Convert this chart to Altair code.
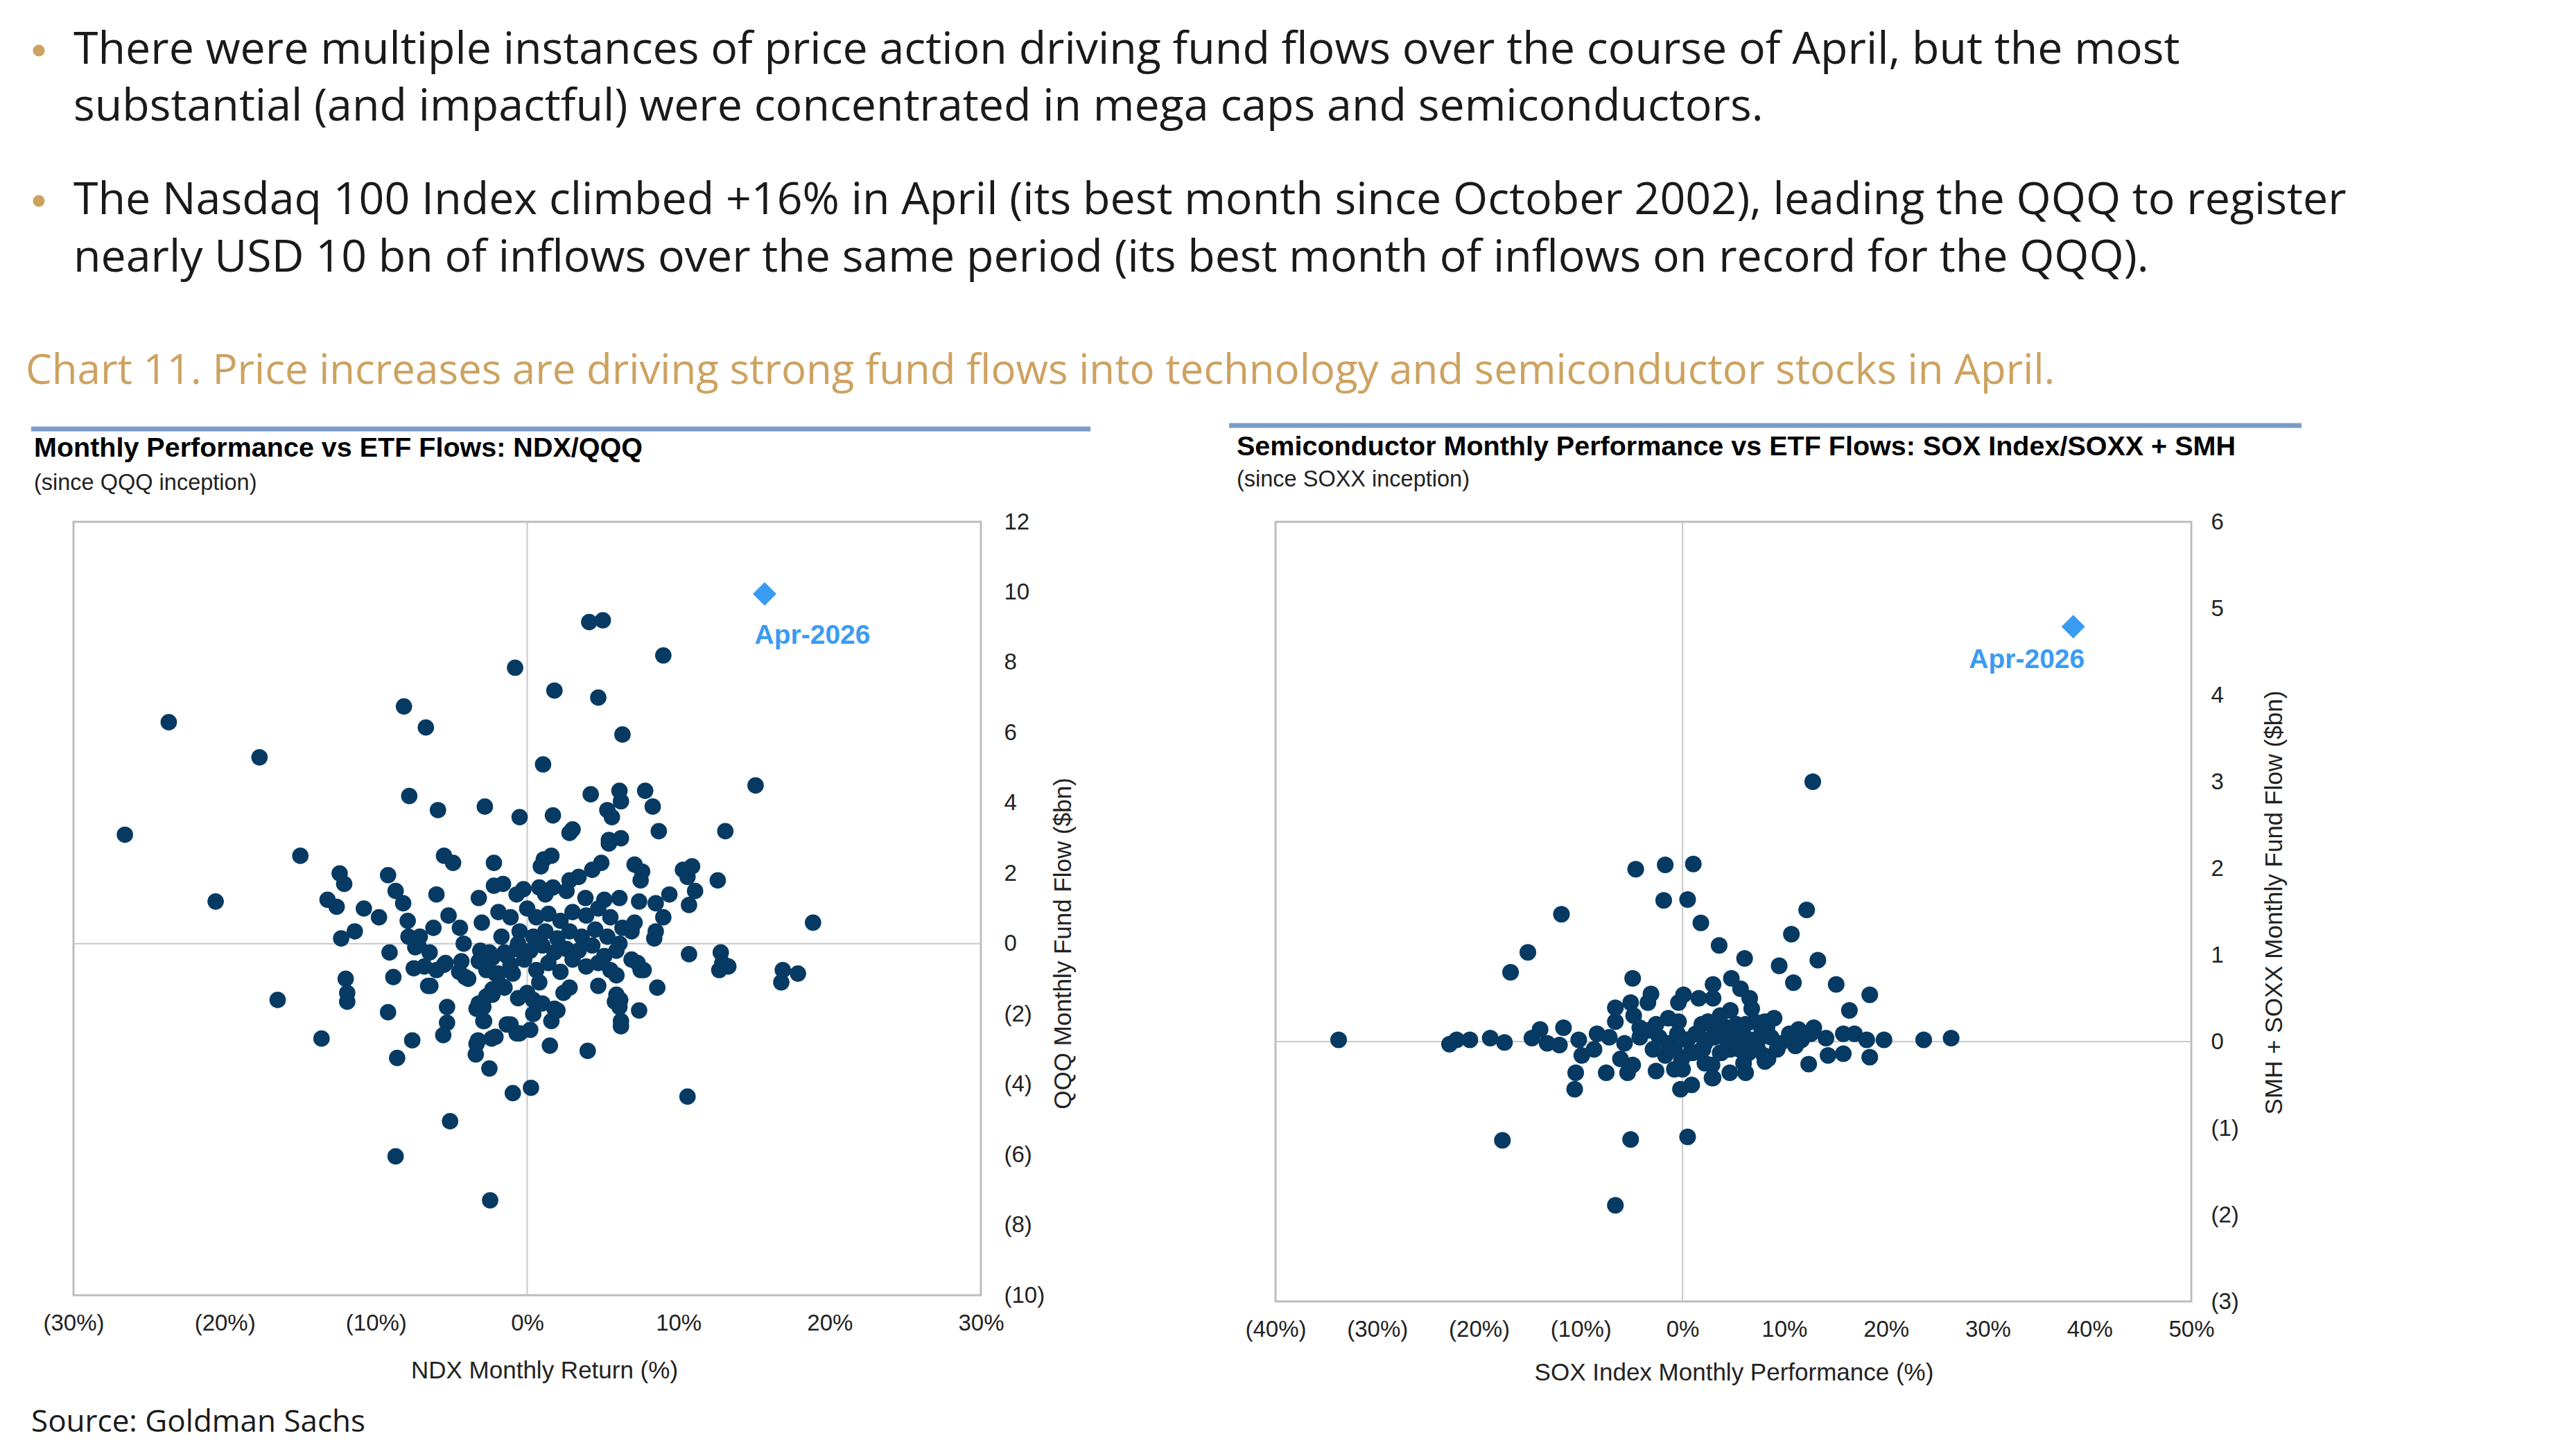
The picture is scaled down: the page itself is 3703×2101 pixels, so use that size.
import altair as alt
import pandas as pd

# ---------------- text content ----------------
BULLET_1 = [
    "There were multiple instances of price action driving fund flows over the course of April, but the most",
    "substantial (and impactful) were concentrated in mega caps and semiconductors.",
]
BULLET_2 = [
    "The Nasdaq 100 Index climbed +16% in April (its best month since October 2002), leading the QQQ to register",
    "nearly USD 10 bn of inflows over the same period (its best month of inflows on record for the QQQ).",
]
CHART_TITLE = "Chart 11. Price increases are driving strong fund flows into technology and semiconductor stocks in April."
SOURCE = "Source: Goldman Sachs"

NDX_TITLE = "Monthly Performance vs ETF Flows: NDX/QQQ"
NDX_SUB = "(since QQQ inception)"
NDX_XTITLE = "NDX Monthly Return (%)"
NDX_YTITLE = "QQQ Monthly Fund Flow ($bn)"

SOX_TITLE = "Semiconductor Monthly Performance vs ETF Flows: SOX Index/SOXX + SMH"
SOX_SUB = "(since SOXX inception)"
SOX_XTITLE = "SOX Index Monthly Performance (%)"
SOX_YTITLE = "SMH + SOXX Monthly Fund Flow ($bn)"

HIGHLIGHT_LABEL = "Apr-2026"

# ---------------- axis ticks ----------------
NDX_X_TICKS = [-30, -20, -10, 0, 10, 20, 30]
NDX_Y_TICKS = [-10, -8, -6, -4, -2, 0, 2, 4, 6, 8, 10, 12]
SOX_X_TICKS = [-40, -30, -20, -10, 0, 10, 20, 30, 40, 50]
SOX_Y_TICKS = [-3, -2, -1, 0, 1, 2, 3, 4, 5, 6]

# ---------------- data: (monthly return %, monthly flow $bn) ----------------
ndx_points = [
    (-26.6, 3.1), (-23.7, 6.3), (-20.6, 1.2), (-17.7, 5.3), (-16.5, -1.6), (-15.0, 2.5), (-13.6, -2.7),
    (-12.4, 2.0), (-12.1, 1.7), (-13.2, 1.25), (-12.6, 1.05), (-12.3, 0.15), (-11.4, 0.35), (-10.8, 1.0), (-9.8, 0.75),
    (-12.0, -1.0), (-11.9, -1.4), (-11.9, -1.65),
    (-9.2, 1.95), (-8.7, 1.5), (-8.2, 1.15), (-7.9, 0.65), (-7.85, 0.2), (-9.1, -0.25), (-8.85, -0.95), (-9.2, -1.95),
    (-7.6, -2.75), (-8.6, -3.25), (-8.7, -6.05), (-5.1, -5.05), (-2.45, -7.3), (-0.95, -4.25),
    (-8.15, 6.75), (-6.7, 6.15), (-7.8, 4.2), (-5.9, 3.8), (-2.8, 3.9), (-5.5, 2.5), (-4.9, 2.3), (-6.0, 1.4),
    (-3.2, 1.3), (-2.2, 1.65),
    (-5.2, 0.8), (-4.45, 0.45), (-6.2, 0.45), (-7.1, 0.2), (-7.4, -0.1), (-6.45, -0.25), (-4.2, 0.0), (-3.0, 0.6),
    (-7.5, -0.7), (-5.5, -0.6), (-4.35, -0.5), (-4.1, -0.95), (-6.55, -1.2), (-5.3, -1.8), (-5.3, -2.25), (-5.55, -2.6),
    (-3.35, -1.85), (-2.85, -2.2), (-3.35, -2.85), (-3.4, -3.15), (-2.35, -2.7), (-2.5, -3.55), (-1.35, -2.3),
    (-0.7, -2.55), (-2.3, -1.45), (-1.7, -1.2), (-0.6, -1.55), (-3.2, -0.5), (-2.5, -0.25), (-2.1, -0.85), (-1.7, 0.2),
    (-0.6, 0.0), (-1.9, 0.9), (-0.7, 1.4), (-0.5, 3.6), (-1.35, -0.35), (-0.95, -0.85),
    (-0.8, 7.85), (1.05, 5.1), (1.8, 7.2), (4.7, 7.0), (4.1, 9.15), (5.0, 9.2), (9.0, 8.2), (6.3, 5.95), (15.1, 4.5),
    (4.2, 4.25), (6.1, 4.35), (6.2, 4.05), (7.8, 4.35), (8.3, 3.9), (1.7, 3.65), (3.0, 3.25), (2.8, 3.15), (5.3, 3.8),
    (5.6, 3.6), (5.4, 2.95), (6.2, 3.0), (5.4, 2.85), (8.7, 3.2), (13.1, 3.2), (18.9, 0.6),
    (-2.2, 2.3), (1.6, 2.5), (1.1, 2.4), (0.9, 2.2), (4.9, 2.3), (4.3, 2.1), (3.4, 1.9), (2.8, 1.8), (7.1, 2.25),
    (7.6, 2.05), (7.5, 1.8), (10.3, 2.1), (10.9, 2.2), (10.6, 1.9), (12.6, 1.8), (11.1, 1.5), (10.7, 1.1), (9.4, 1.4),
    (-1.6, 1.7), (-0.25, 1.55), (0.8, 1.6), (1.2, 1.4), (1.7, 1.6), (2.6, 1.5), (3.85, 1.3), (5.1, 1.25), (6.1, 1.3),
    (7.4, 1.2), (8.5, 1.15), (9.0, 0.75), (8.5, 0.35), (8.4, 0.15), (-1.1, 0.75),
    (0.0, 1.0), (0.6, 0.75), (1.4, 0.85), (2.2, 0.65), (3.0, 0.9), (3.9, 0.8), (4.7, 1.0), (5.5, 0.75), (6.3, 0.45), (7.1, 0.6),
    (-0.5, 0.35), (0.4, 0.2), (1.2, 0.35), (2.0, 0.15), (2.8, 0.35), (3.6, 0.2), (4.5, 0.4), (5.3, 0.2), (6.1, 0.0), (6.9, 0.35),
    (-0.7, -0.15), (0.2, -0.2), (1.0, -0.05), (1.8, -0.25), (2.6, -0.15), (3.4, -0.2), (4.3, -0.05), (5.1, -0.35), (5.9, -0.2),
    (-3.1, -0.2), (-2.3, -0.4), (-1.5, -0.25), (-2.7, -0.75), (-1.9, -0.85), (-1.1, -0.6), (-0.2, -0.45), (0.6, -0.75),
    (1.4, -0.55), (2.2, -0.8), (3.0, -0.45), (3.9, -0.65), (4.7, -0.55), (5.5, -0.75),
    (-5.4, -0.55), (-4.5, -0.8), (-3.9, -1.0), (-6.0, -0.75), (-6.8, -0.65), (-7.2, -0.05), (-6.4, -1.2),
    (0.8, -1.1), (0.0, -1.4), (2.4, -1.4), (2.8, -1.25), (4.7, -1.2), (5.9, -0.9), (6.9, -0.45), (7.5, -0.75), (8.6, -1.25),
    (-2.3, -1.3), (-2.9, -1.8), (-2.7, -1.5), (-1.5, -1.25),
    (0.4, -1.6), (1.0, -1.7), (0.4, -2.0), (1.8, -1.85), (1.6, -2.2),
    (5.9, -1.45), (6.1, -1.8), (6.2, -2.2), (6.2, -2.35), (7.4, -1.9),
    (-3.2, -1.7), (-2.9, -2.2), (-1.1, -2.3), (-0.5, -2.55), (0.2, -2.45), (-2.1, -2.65),
    (1.5, -2.9), (4.0, -3.05),
    (10.7, -0.3), (12.8, -0.25), (12.9, -0.55), (13.3, -0.65), (12.7, -0.75),
    (16.9, -0.75), (16.8, -1.1), (17.9, -0.85),
    (7.3, -0.55), (7.7, -0.75),
    (0.25, -4.1), (10.6, -4.35), (-1.25, -2.3), (2.0, -1.9), (-3.25, -2.75), (6.15, -1.6), (5.8, -1.65),
]
ndx_highlight = [(15.7, 9.95)]

sox_points = [
    (-33.8, 0.02), (-22.9, -0.03), (-22.2, 0.02), (-20.9, 0.02), (-18.9, 0.04), (-17.5, -0.01), (-16.9, 0.8),
    (-15.2, 1.03), (-11.9, 1.47), (-17.7, -1.14),
    (-4.6, 1.99), (-1.7, 2.04), (1.06, 2.05), (-1.85, 1.63), (0.5, 1.64), (1.8, 1.37), (3.6, 1.11), (6.1, 0.96),
    (-4.9, 0.73), (-3.1, 0.55), (-3.4, 0.45), (-6.6, 0.39), (-6.6, 0.23), (-5.1, 0.45), (-4.8, 0.3),
    (0.1, 0.54), (-0.4, 0.45), (1.6, 0.5), (3.0, 0.66), (3.0, 0.5),
    (4.8, 0.73), (5.7, 0.61), (6.6, 0.5), (6.8, 0.38), (4.7, 0.36), (3.7, 0.3), (2.5, 0.23), (-1.4, 0.27), (-0.4, 0.23),
    (-14.0, 0.14), (-11.7, 0.16), (-14.8, 0.04), (-13.3, -0.02), (-12.1, -0.04),
    (-10.2, 0.02), (-8.4, 0.09), (-7.2, 0.05), (-9.9, -0.16), (-8.7, -0.09),
    (-10.5, -0.36), (-10.6, -0.55),
    (-7.5, -0.36), (-5.4, -0.36), (-4.9, -0.27), (-6.1, -0.2),
    (-2.6, -0.34), (-0.8, -0.32), (-0.1, -0.21),
    (-0.2, -0.55), (0.9, -0.5),
    (3.0, -0.42), (4.65, -0.36), (6.2, -0.36), (6.0, -0.25), (2.2, -0.25),
    (-5.1, -1.13), (0.5, -1.1), (-6.6, -1.89),
    (-4.2, 0.05), (-3.3, 0.13), (-2.3, 0.05), (-1.4, -0.02), (-0.5, 0.09), (0.4, 0.02), (1.3, 0.09), (2.2, -0.02),
    (3.1, 0.05), (4.0, 0.13), (5.0, 0.02), (5.9, 0.09), (6.8, -0.02), (7.7, 0.05), (8.3, 0.16), (-2.9, -0.09),
    (-1.7, -0.16), (-0.8, -0.09), (1.0, -0.13), (1.9, -0.09), (3.7, -0.13), (4.7, -0.09), (6.5, -0.13), (8.0, -0.16),
    (8.1, -0.23), (-4.2, 0.16), (-2.6, 0.2), (1.9, 0.2), (3.4, 0.16), (5.3, 0.2), (7.1, 0.23), (-5.7, -0.02),
    (12.8, 3.0), (12.2, 1.52), (10.7, 1.24), (13.3, 0.94), (9.5, 0.875), (10.9, 0.68), (15.1, 0.66), (18.4, 0.54),
    (16.4, 0.36),
    (9.0, 0.27), (8.1, 0.23), (11.4, 0.14), (12.9, 0.16),
    (14.1, 0.04), (15.8, 0.09), (16.9, 0.09), (18.1, 0.02), (19.8, 0.02), (23.7, 0.02), (26.4, 0.04),
    (14.3, -0.16), (15.8, -0.14), (18.4, -0.18), (12.4, -0.26), (8.4, -0.2), (2.9, -0.27), (2.9, -0.42), (0.0, -0.32),
    (0.5, 0.02), (1.4, 0.09), (2.3, 0.02), (3.2, 0.13), (4.1, 0.05), (5.0, -0.02), (5.9, 0.09), (6.8, 0.02), (7.8, 0.13),
    (8.7, 0.05), (9.6, -0.02), (10.5, 0.09), (11.7, 0.02), (12.6, 0.09), (-1.1, -0.09), (0.8, -0.13), (2.0, -0.09),
    (3.8, -0.13), (5.6, -0.09), (7.4, -0.09), (9.3, -0.09), (11.1, -0.05), (4.4, 0.16), (6.2, 0.2), (2.9, 0.2),
]
sox_highlight = [(38.4, 4.79)]

# ---------------- styles ----------------
NAVY = "#063A63"
HILITE = "#3A9BF2"
TAN = "#CDA260"
GRID = "#C8C8C8"
RULE_BLUE = "#7B9BC8"
AXFONT = "Liberation Sans"
BODYFONT = "Open Sans"
LABEL_COLOR = "#222222"


def neg_paren(pct):
    suffix = "%" if pct else ""
    return ("datum.value < 0 ? '(' + (-datum.value) + '" + suffix + ")' : datum.value + '" + suffix + "'")


def txt(s, x, y, size, color, font, weight="normal", align="left", baseline="middle"):
    return alt.Chart(pd.DataFrame({"t": [s]})).mark_text(
        align=align, baseline=baseline, fontSize=size, font=font, fontWeight=weight, color=color
    ).encode(text="t:N", x=alt.value(x), y=alt.value(y))


def hrule(x1, x2, y, color, width):
    return alt.Chart(pd.DataFrame({"a": [0]})).mark_rule(color=color, strokeWidth=width).encode(
        x=alt.value(x1), x2=alt.value(x2), y=alt.value(y)
    )


def scatter_panel(points, highlight, xdom, ydom, xticks, yticks, xtitle, ytitle,
                  xtitle_x, xtitle_y, ytitle_x, ytitle_y, ylabpad, dot_size, lab_dx, lab_dy):
    xaxis = alt.Axis(values=xticks, labelExpr=neg_paren(True), ticks=False, domain=False, grid=False,
                     labelFont=AXFONT, labelFontSize=33, labelColor=LABEL_COLOR, labelPadding=40,
                     labelBaseline="middle", labelFlush=False, labelOverlap=False, labelBound=False,
                     title=xtitle, titleFont=AXFONT, titleFontSize=35, titleFontWeight="normal",
                     titleColor=LABEL_COLOR, titleX=xtitle_x, titleY=xtitle_y, titleAlign="center",
                     titleBaseline="middle", titleAnchor="start")
    yaxis = alt.Axis(values=yticks, labelExpr=neg_paren(False), orient="right", ticks=False, domain=False,
                     grid=False, labelFont=AXFONT, labelFontSize=33, labelColor=LABEL_COLOR,
                     labelPadding=ylabpad, labelAlign="left", labelBaseline="middle", labelFlush=False,
                     labelOverlap=False, labelBound=False,
                     title=ytitle, titleFont=AXFONT, titleFontSize=35, titleFontWeight="normal",
                     titleColor=LABEL_COLOR, titleAngle=270, titleX=ytitle_x, titleY=ytitle_y,
                     titleAlign="center", titleBaseline="middle", titleAnchor="start")
    xs = alt.Scale(domain=xdom, nice=False, zero=False)
    ys = alt.Scale(domain=ydom, nice=False, zero=False)

    def X(f):
        return alt.X(f, type="quantitative", scale=xs, axis=xaxis)

    def Y(f):
        return alt.Y(f, type="quantitative", scale=ys, axis=yaxis)

    df = pd.DataFrame(points, columns=["ret", "flow"])
    hdf = pd.DataFrame(highlight, columns=["ret", "flow"])
    hdf["label"] = HIGHLIGHT_LABEL
    zero = pd.DataFrame({"ret": [0], "flow": [0]})

    vline = alt.Chart(zero).mark_rule(color=GRID, strokeWidth=2).encode(x=X("ret"))
    hline = alt.Chart(zero).mark_rule(color=GRID, strokeWidth=2).encode(y=Y("flow"))
    dots = alt.Chart(df).mark_circle(size=dot_size, color=NAVY, opacity=1).encode(x=X("ret"), y=Y("flow"))
    diamond = alt.Chart(hdf).mark_point(shape="diamond", filled=True, size=1156, color=HILITE, opacity=1).encode(
        x=X("ret"), y=Y("flow"))
    label = alt.Chart(hdf).mark_text(font=AXFONT, fontSize=39, fontWeight="bold", color=HILITE,
                                     dx=lab_dx, dy=lab_dy, align="center", baseline="middle").encode(
        x=X("ret"), y=Y("flow"), text="label:N")
    return [vline, hline, dots, diamond, label]


BODY_SIZE = 64.5
left_layers = scatter_panel(ndx_points, ndx_highlight, [-30, 30], [-10, 12], NDX_X_TICKS, NDX_Y_TICKS,
                            NDX_XTITLE, NDX_YTITLE, 679, 108, 118, 608, 33, 560, 69, 60)
left_header = [
    hrule(-96, -95, -743, "#FFFFFF", 1),
    hrule(-96, -95, 1345, "#FFFFFF", 1),
    alt.Chart(pd.DataFrame({"a": [0]})).mark_circle(size=290, color=TAN, opacity=1).encode(
        x=alt.value(-50), y=alt.value(-680)),
    alt.Chart(pd.DataFrame({"a": [0]})).mark_circle(size=290, color=TAN, opacity=1).encode(
        x=alt.value(-50), y=alt.value(-463)),
    txt(BULLET_1[0], 0, -680, BODY_SIZE, "#1A1A1A", BODYFONT),
    txt(BULLET_1[1], 0, -598, BODY_SIZE, "#1A1A1A", BODYFONT),
    txt(BULLET_2[0], 0, -463, BODY_SIZE, "#1A1A1A", BODYFONT),
    txt(BULLET_2[1], 0, -380, BODY_SIZE, "#1A1A1A", BODYFONT),
    txt(CHART_TITLE, -69, -217, 60, TAN, BODYFONT),
    hrule(-61, 1467, -134, RULE_BLUE, 7),
    txt(NDX_TITLE, -57, -106, 39.5, "#000000", AXFONT, weight="bold"),
    txt(NDX_SUB, -57, -56, 32.5, "#222222", AXFONT),
    txt(SOURCE, -61, 1300, 44, "#1A1A1A", BODYFONT),
]
left = alt.layer(*left_layers, *left_header).properties(width=1309, height=1116)

right_layers = scatter_panel(sox_points, sox_highlight, [-40, 50], [-3, 6], SOX_X_TICKS, SOX_Y_TICKS,
                             SOX_XTITLE, SOX_YTITLE, 661, 102, 119, 549, 28, 580, -67, 48)
right_header = [
    hrule(-67, 1480, -139, RULE_BLUE, 7),
    txt(SOX_TITLE, -56, -108, 39.5, "#000000", AXFONT, weight="bold"),
    txt(SOX_SUB, -56, -61, 32.5, "#222222", AXFONT),
]
right = alt.layer(*right_layers, *right_header).properties(width=1321, height=1125)

chart = alt.hconcat(left, right, spacing=425, bounds="flush").properties(
    padding=0, background="#FFFFFF"
).configure_view(stroke="#BDBDBD", strokeWidth=3)

chart.save("out.html", embed_options={"renderer": "svg", "actions": False})
